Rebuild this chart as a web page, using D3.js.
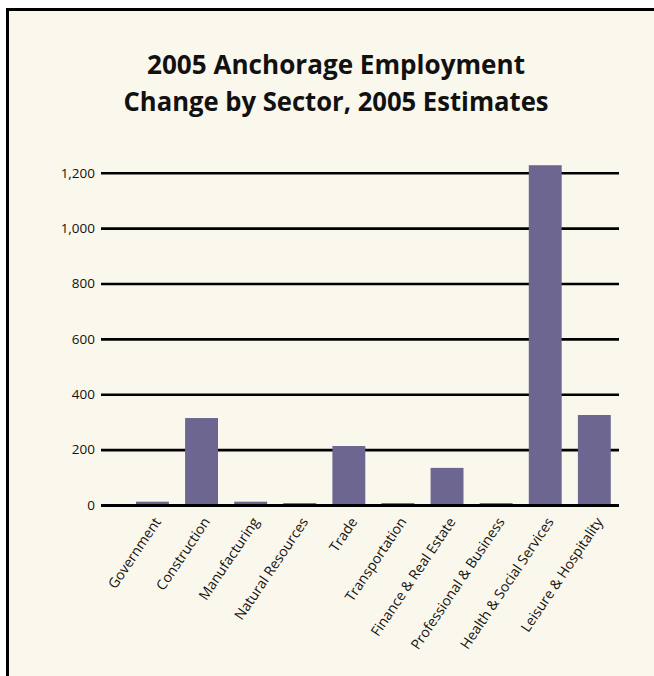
<!DOCTYPE html>
<html>
<head>
<meta charset="utf-8">
<script src="https://cdn.jsdelivr.net/npm/d3@7/dist/d3.min.js"></script>
<style>
  html, body { margin: 0; padding: 0; background: #ffffff; }
  svg { display: block; }
</style>
</head>
<body>
<script>
// Employment change by sector, Anchorage, 2005 estimates
const categories = [
  "Government", "Construction", "Manufacturing", "Natural Resources", "Trade",
  "Transportation", "Finance & Real Estate", "Professional & Business",
  "Health & Social Services", "Leisure & Hospitality"
];
const values = [12, 314, 12, 7, 213, 7, 134, 7, 1227, 325];
const tickValues = [0, 200, 400, 600, 800, 1000, 1200];
const titleLines = ["2005 Anchorage Employment", "Change by Sector, 2005 Estimates"];

const W = 654, H = 676;
const svg = d3.select("body").append("svg")
  .attr("width", W).attr("height", H);

// Panel with a dark frame that runs off the right and bottom edges
svg.append("rect")
  .attr("x", 7.5).attr("y", 9.5)
  .attr("width", W).attr("height", H)
  .attr("fill", "#faf7ec")
  .attr("stroke", "#000").attr("stroke-width", 3);

// Title
const titleFont = "'Open Sans', 'DejaVu Sans', sans-serif";
const titleWidths = [378, 425];
const titleBaselines = [73.5, 111];
titleLines.forEach((t, i) => {
  svg.append("text")
    .attr("x", 336).attr("y", titleBaselines[i])
    .attr("text-anchor", "middle")
    .attr("font-family", titleFont)
    .attr("font-weight", 700)
    .attr("font-size", 27.5)
    .attr("fill", "#111")
    .attr("textLength", titleWidths[i])
    .attr("lengthAdjust", "spacingAndGlyphs")
    .text(t);
});

// Scales
const y = d3.scaleLinear().domain([0, 1200]).range([505, 172.7]);
const x = d3.scaleBand()
  .domain(categories)
  .range([101, 619])
  .paddingInner(0.33)
  .paddingOuter(0.44)
  .align(0.81);

const labelFont = "'Open Sans', 'Noto Sans', sans-serif";

// Gridlines + y tick labels
const yAxis = d3.axisLeft(y)
  .tickValues(tickValues)
  .tickFormat(d3.format(","))
  .tickSize(-(619 - 101))
  .tickPadding(6);

const gy = svg.append("g")
  .attr("transform", "translate(101,0)")
  .call(yAxis);
gy.select(".domain").remove();
gy.selectAll(".tick line")
  .attr("stroke", "#000")
  .attr("stroke-width", 2.6);
gy.selectAll(".tick text")
  .attr("font-family", labelFont)
  .attr("font-size", 13.5)
  .attr("fill", "#111");

// Bars
svg.append("g").selectAll("rect")
  .data(categories)
  .join("rect")
  .attr("x", d => x(d))
  .attr("width", x.bandwidth())
  .attr("y", (d, i) => y(values[i]))
  .attr("height", (d, i) => y(0) - y(values[i]))
  .attr("fill", "#6c6690");

// Zero line drawn over the bar bases
svg.append("line")
  .attr("x1", 101).attr("x2", 619)
  .attr("y1", y(0) + 0.5).attr("y2", y(0) + 0.5)
  .attr("stroke", "#000").attr("stroke-width", 2.8);

// Rotated category labels
svg.append("g").selectAll("text")
  .data(categories)
  .join("text")
  .attr("transform", d => `translate(${x(d) + x.bandwidth() / 2 + 5},${519}) rotate(-56)`)
  .attr("text-anchor", "end")
  .attr("dy", "0.35em")
  .attr("font-family", labelFont)
  .attr("font-size", 14)
  .attr("fill", "#111")
  .text(d => d);
</script>
</body>
</html>
